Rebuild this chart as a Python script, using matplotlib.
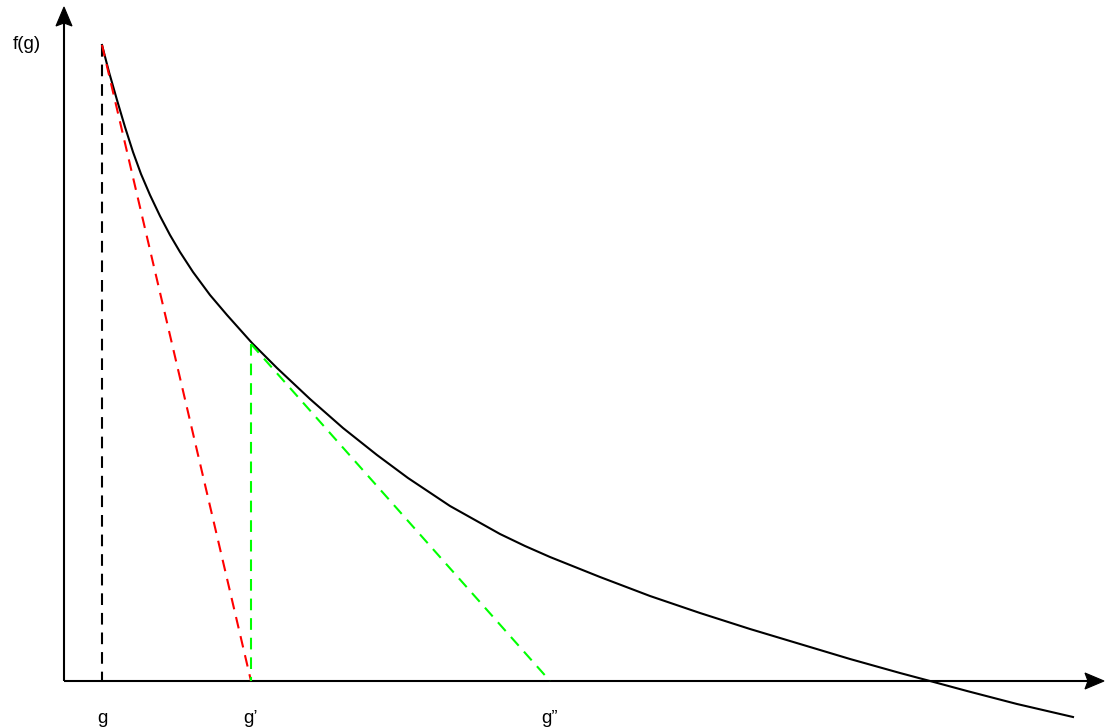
import matplotlib
matplotlib.use("Agg")
import matplotlib.pyplot as plt
from matplotlib.patches import Polygon

plt.rcParams['font.family'] = ['Liberation Sans', 'DejaVu Sans']

# Curve f(g) (pixel columns / rows of the original)
curve_px = [102, 109, 117, 125, 133, 141, 150, 160, 170, 180, 193, 210, 227, 252, 277, 310, 343,
            377, 408, 450, 500, 525, 550, 575, 600, 650, 700, 750, 800, 850, 900, 930, 967, 1017, 1073]
curve_py = [45, 72, 100, 127, 152, 174, 195, 216, 235, 252, 272, 295, 315, 343, 368, 399, 428,
            455, 478, 506, 534, 546, 557, 567, 577, 596, 613, 629, 644, 659, 673, 681, 691, 704, 717]

ORIGIN_X, ORIGIN_Y = 64, 681
curve_x = [p - ORIGIN_X for p in curve_px]
curve_y = [ORIGIN_Y - p for p in curve_py]

g0, g1, g2 = 38, 187, 486
f0, f1 = 636, 337
tick_labels = ["g", "g\u2019", "g\u201d"]
ylabel = "f(g)"

fig = plt.figure(figsize=(11.05, 7.27), dpi=100)
ax = fig.add_axes([0, 0, 1, 1])
ax.set_xlim(-ORIGIN_X, 1105 - ORIGIN_X)
ax.set_ylim(ORIGIN_Y - 727, ORIGIN_Y)
ax.axis('off')

# axes with notched arrow heads
ax.plot([0, 1026], [0, 0], color='black', lw=1.5, solid_capstyle='butt')
ax.plot([0, 0], [0, 660], color='black', lw=1.5, solid_capstyle='butt')
ax.add_patch(Polygon([(1040, 0), (1021, 8), (1024, 0), (1021, -8)], closed=True,
                     facecolor='black', edgecolor='black', lw=0.8))
ax.add_patch(Polygon([(0, 674), (-8, 655), (0, 658), (8, 655)], closed=True,
                     facecolor='black', edgecolor='black', lw=0.8))

ax.plot(curve_x, curve_y, color='black', lw=1.5, solid_joinstyle='round')

ds = (5.6, 3.8)
ax.plot([g0, g0], [f0, 0], color='black', lw=1.5, dashes=ds)
ax.plot([g0, g1], [f0, 0], color='#ff0000', lw=1.5, dashes=ds)
ax.plot([g1, g1], [f1, 0], color='#00ff00', lw=1.5, dashes=ds)
ax.plot([g1, g2], [f1, 0], color='#00ff00', lw=1.5, dashes=ds)

for xv, lab in zip([g0, g1, g2], tick_labels):
    ax.text(xv, -42, lab, ha='center', va='baseline', fontsize=13.5)
ax.text(-37, 632, ylabel, ha='center', va='baseline', fontsize=13.5)

fig.savefig("out.png", dpi=100)
